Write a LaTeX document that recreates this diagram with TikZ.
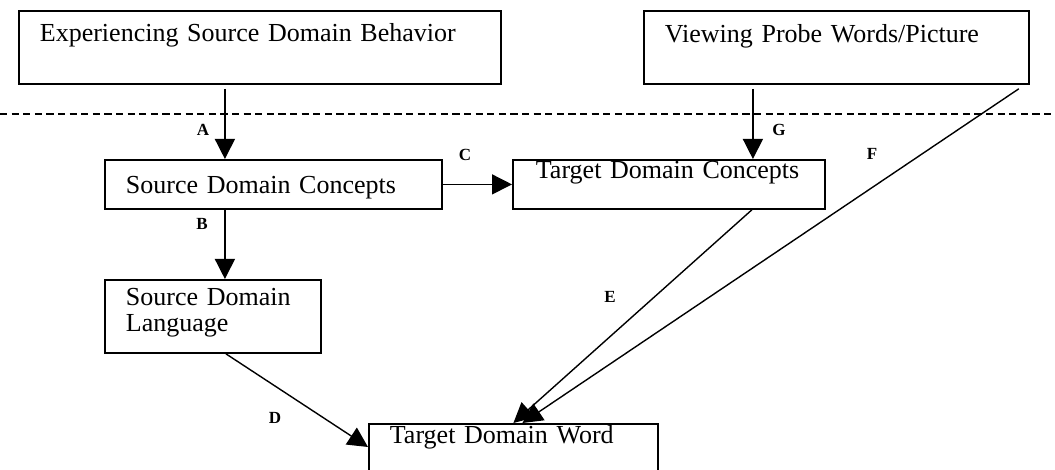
\documentclass[tikz,border=0pt]{standalone}
\usepackage{fontspec}
\setmainfont{Liberation Serif}
\usetikzlibrary{arrows.meta}

\begin{document}
\begin{tikzpicture}[x=0.5pt,y=-0.5pt,box/.style={draw,line width=0.9pt,anchor=north west,inner xsep=10.5pt,inner ysep=0pt,align=left,font=\fontsize{13}{12.7}\selectfont},arr/.style={line width=0.7pt,-{Triangle[length=10pt,width=10pt]}},lbl/.style={font=\fontsize{8.5}{9}\selectfont\bfseries,inner sep=0pt},sep/.style={dash pattern=on 3.6pt off 2.2pt,line width=0.7pt}]
\useasboundingbox (0,0) rectangle (1055,470);
\clip (0,0) rectangle (1055,470);
\node[box,text width=220pt,text height=15.5pt,text depth=21pt] (behav) at (18,10) {Experiencing Source Domain Behavior};
\node[box,text width=171.5pt,text height=16pt,text depth=20.5pt] (probe) at (643,10) {Viewing Probe Words/Picture};
\draw[sep] (0,114) -- (1055,114);
\node[box,text width=147.5pt,text height=17pt,text depth=7.5pt] (sdc) at (104,159) {Source Domain Concepts};
\node[box,inner xsep=11.5pt,text width=133pt,text height=9.5pt,text depth=15pt] (tdc) at (512,159) {Target Domain Concepts};
\node[box,text width=87pt,text height=13pt,text depth=23.5pt] (sdl) at (104,279) {Source Domain\\Language};
\node[box,text width=123.5pt,text height=10pt,text depth=28.5pt] (tdw) at (368,423) {Target Domain Word};
% connectors
\draw[arr] ([xshift=-17.5pt,yshift=-2pt]behav.south) -- ([xshift=-24.25pt]sdc.north);
\draw[arr] ([xshift=-24.25pt]sdc.south) -- ([xshift=6pt]sdl.north);
\draw[arr] (sdc.east) -- (tdc.west);
\draw[arr] ([xshift=6.5pt]sdl.south) -- ([yshift=-12pt]tdw.north west);
\draw[arr] ([xshift=41.5pt]tdc.south) -- (tdw.north);
\draw[arr] ([xshift=-5.5pt,yshift=-2pt]probe.south east) -- ([xshift=4.5pt]tdw.north);
\draw[arr] ([xshift=-41.75pt,yshift=-2pt]probe.south) -- ([xshift=42pt]tdc.north);
% labels
\node[lbl] (la) at (203,130) {A};
\node[lbl] (lb) at (202,224) {B};
\node[lbl] (lc) at (465,155) {C};
\node[lbl] (ld) at (275,418) {D};
\node[lbl] (le) at (610,297) {E};
\node[lbl] (lf) at (872,154) {F};
\node[lbl] (lg) at (779,130) {G};
\end{tikzpicture}
\end{document}
